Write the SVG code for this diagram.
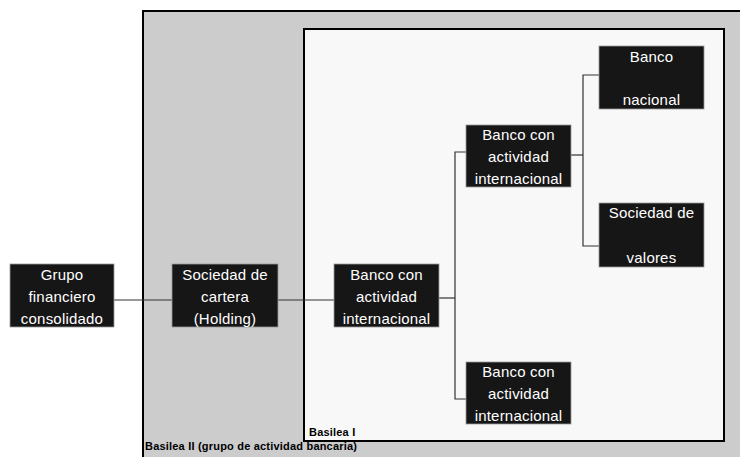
<svg xmlns="http://www.w3.org/2000/svg" width="740" height="457" viewBox="0 0 740 457">
<style>
.node rect{fill:#161616;stroke:#9a9a9a;stroke-width:0.8}
.node text{fill:#ffffff;font-family:"Liberation Sans",Arial,sans-serif;font-size:15px;text-anchor:middle;letter-spacing:0.2px}
.conn{fill:none;stroke:#333;stroke-width:1.2}
.lbl{font-family:"Liberation Sans",Arial,sans-serif;font-size:11px;font-weight:bold;fill:#000;letter-spacing:0.2px}
</style>
<rect width="740" height="457" fill="#ffffff"/>
<g id="basilea2">
<rect x="143" y="11" width="620" height="470" fill="#cccccc" stroke="#000" stroke-width="2"/>
<text class="lbl" x="145" y="450">Basilea II (grupo de actividad bancaria)</text>
</g>
<g id="basilea1">
<rect x="304" y="29" width="420" height="412" fill="#f8f8f8" stroke="#000" stroke-width="2"/>
<text class="lbl" x="309" y="436">Basilea I</text>
</g>
<g id="connectors">
<path class="conn" d="M114 300H172"/>
<path class="conn" d="M278 300H334"/>
<path class="conn" d="M439 298H455"/>
<path class="conn" d="M466 152H455V399H466"/>
<path class="conn" d="M571 155H583"/>
<path class="conn" d="M599 75H583V246H599"/>
</g>
<g id="n1" class="node">
<rect x="10" y="264" width="104" height="63"/>
<text x="62" y="280">Grupo</text>
<text x="62" y="302">financiero</text>
<text x="62" y="324">consolidado</text>
</g>
<g id="n2" class="node">
<rect x="172" y="264" width="106" height="63"/>
<text x="225" y="280">Sociedad de</text>
<text x="225" y="302">cartera</text>
<text x="225" y="324">(Holding)</text>
</g>
<g id="n3" class="node">
<rect x="334" y="264" width="105" height="63"/>
<text x="386.5" y="280">Banco con</text>
<text x="386.5" y="302">actividad</text>
<text x="386.5" y="324">internacional</text>
</g>
<g id="n4" class="node">
<rect x="466" y="125" width="105" height="62"/>
<text x="518.5" y="140">Banco con</text>
<text x="518.5" y="162">actividad</text>
<text x="518.5" y="184">internacional</text>
</g>
<g id="n5" class="node">
<rect x="599" y="46" width="105" height="63"/>
<text x="651.5" y="62">Banco</text>
<text x="651.5" y="105">nacional</text>
</g>
<g id="n6" class="node">
<rect x="599" y="203" width="105" height="64"/>
<text x="651.5" y="218">Sociedad de</text>
<text x="651.5" y="263">valores</text>
</g>
<g id="n7" class="node">
<rect x="466" y="362" width="105" height="62"/>
<text x="518.5" y="377">Banco con</text>
<text x="518.5" y="399">actividad</text>
<text x="518.5" y="421">internacional</text>
</g>
</svg>
